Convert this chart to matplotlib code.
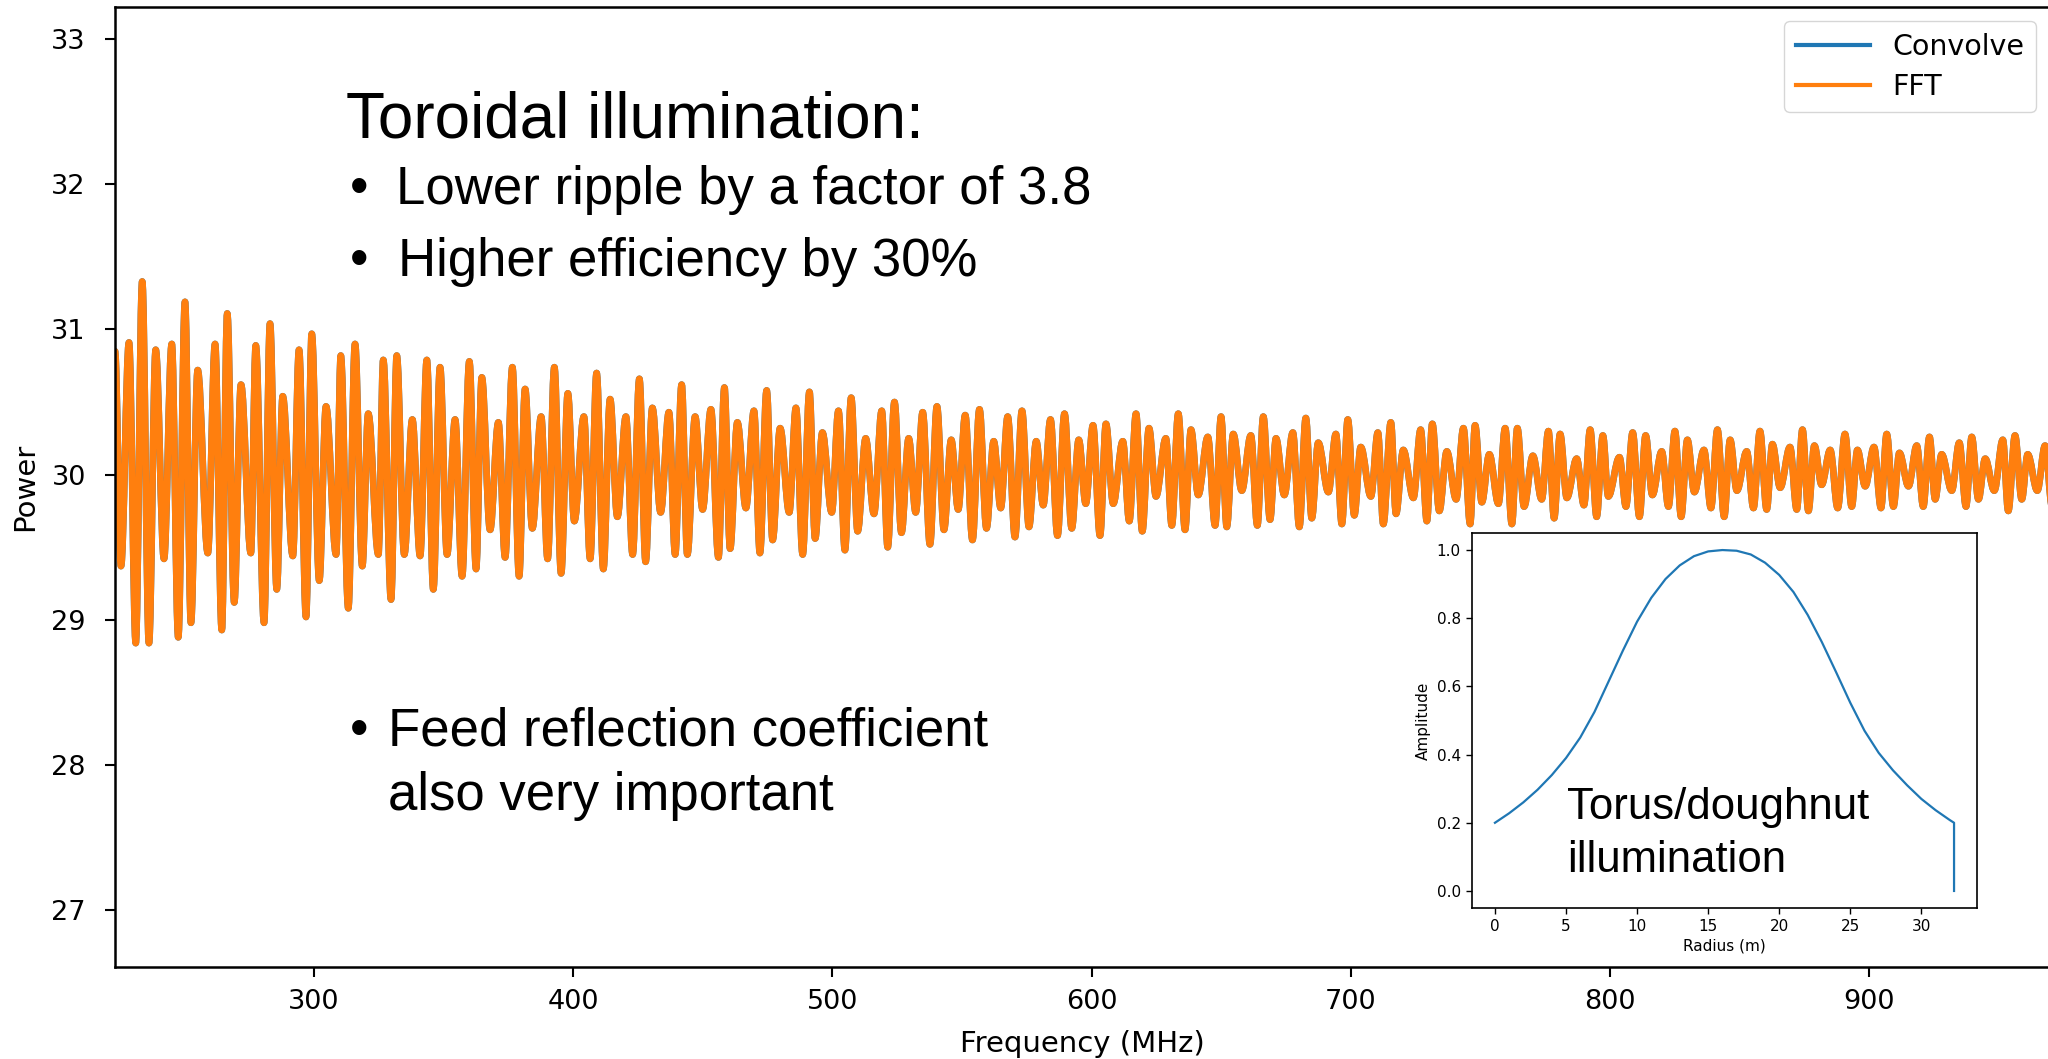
import matplotlib
matplotlib.use("Agg")
import matplotlib.pyplot as plt
from matplotlib.path import Path
from matplotlib.patches import PathPatch
from matplotlib.lines import Line2D

# Ripple turning points of the simulated bandpass (frequency in MHz, power)
freq_mhz = [
    223.2, 225.5, 228.6, 231.2, 233.7, 236.3, 238.9, 242.1, 245.1, 247.6,
    250.2, 252.5, 255.1, 259.0, 261.8, 264.4, 266.5, 269.2, 271.8, 275.6,
    277.5, 280.7, 283.0, 285.6, 287.9, 291.8, 294.2, 296.9, 299.1, 302.0,
    304.6, 308.5, 310.3, 313.2, 315.8, 318.6, 320.9, 324.8, 326.7, 329.7,
    331.9, 334.8, 337.9, 340.9, 343.5, 346.0, 348.6, 351.3, 354.4, 357.1,
    359.9, 362.5, 364.7, 367.9, 371.1, 373.7, 376.5, 379.1, 381.4, 384.2,
    387.6, 390.1, 392.7, 395.3, 397.9, 400.4, 404.1, 406.5, 409.0, 411.6,
    414.2, 417.0, 420.3, 422.9, 425.5, 427.9, 430.5, 433.7, 436.9, 439.3,
    441.8, 444.0, 447.0, 449.9, 453.1, 456.0, 458.3, 460.5, 463.3, 466.6,
    469.7, 472.0, 474.6, 476.9, 479.8, 483.3, 485.9, 488.5, 491.1, 493.3,
    496.1, 499.7, 502.3, 504.8, 507.2, 509.7, 512.8, 516.0, 519.0, 521.3,
    523.9, 526.6, 529.4, 532.1, 534.8, 537.6, 540.3, 543.0, 545.8, 548.5,
    551.2, 554.0, 556.7, 559.4, 562.2, 564.9, 567.6, 570.4, 573.1, 575.8,
    578.6, 581.3, 584.1, 586.8, 589.5, 592.3, 595.0, 597.7, 600.5, 603.2,
    605.5, 608.3, 612.0, 614.5, 617.1, 619.5, 622.1, 624.8, 628.6, 630.9,
    633.4, 636.0, 638.3, 641.1, 644.8, 647.6, 649.9, 652.1, 654.6, 657.9,
    661.4, 663.9, 666.2, 668.8, 671.1, 674.3, 677.6, 680.1, 682.6, 684.9,
    687.4, 691.3, 694.2, 696.5, 698.8, 701.3, 703.8, 707.7, 710.4, 712.5,
    715.4, 717.4, 720.2, 724.1, 726.9, 729.3, 731.4, 734.1, 737.0, 740.6,
    743.4, 746.0, 747.9, 750.5, 753.4, 756.9, 759.5, 762.1, 764.2, 766.8,
    770.2, 773.6, 776.2, 778.4, 780.7, 783.3, 787.1, 789.9, 792.3, 794.8,
    797.2, 799.3, 803.6, 806.1, 808.7, 811.3, 813.7, 816.3, 819.9, 822.5,
    825.0, 827.4, 829.8, 832.5, 836.2, 838.9, 841.4, 844.0, 846.3, 848.9,
    852.7, 855.3, 857.8, 860.4, 862.6, 865.6, 869.4, 872.0, 874.2, 876.5,
    878.8, 881.6, 884.9, 887.8, 890.6, 893.2, 895.4, 898.4, 901.8, 904.5,
    906.7, 909.3, 911.6, 915.1, 918.3, 920.8, 923.2, 925.4, 927.9, 931.8,
    934.7, 937.3, 939.5, 942.1, 944.7, 948.2, 951.5, 953.6, 956.2, 958.8,
    961.1, 964.8, 967.8, 970.5,
]
power = [
    30.85, 29.37, 30.91, 28.84, 31.33, 28.84, 30.86, 29.42, 30.90, 28.88,
    31.19, 28.98, 30.72, 29.46, 30.90, 28.93, 31.11, 29.12, 30.62, 29.46,
    30.89, 28.98, 31.04, 29.21, 30.54, 29.44, 30.86, 29.02, 30.97, 29.27,
    30.47, 29.45, 30.82, 29.08, 30.90, 29.37, 30.42, 29.45, 30.79, 29.14,
    30.82, 29.45, 30.38, 29.44, 30.79, 29.21, 30.74, 29.45, 30.38, 29.30,
    30.78, 29.35, 30.67, 29.62, 30.36, 29.43, 30.74, 29.30, 30.59, 29.63,
    30.40, 29.42, 30.74, 29.32, 30.56, 29.68, 30.40, 29.42, 30.70, 29.35,
    30.52, 29.71, 30.40, 29.45, 30.66, 29.40, 30.46, 29.74, 30.43, 29.45,
    30.62, 29.45, 30.40, 29.76, 30.45, 29.43, 30.60, 29.49, 30.36, 29.77,
    30.44, 29.46, 30.58, 29.55, 30.32, 29.74, 30.46, 29.45, 30.57, 29.56,
    30.29, 29.74, 30.44, 29.48, 30.53, 29.61, 30.25, 29.73, 30.44, 29.50,
    30.50, 29.60, 30.25, 29.74, 30.43, 29.52, 30.47, 29.62, 30.24, 29.76,
    30.41, 29.55, 30.45, 29.63, 30.23, 29.77, 30.40, 29.57, 30.44, 29.64,
    30.23, 29.79, 30.38, 29.58, 30.42, 29.63, 30.24, 29.80, 30.34, 29.58,
    30.35, 29.80, 30.23, 29.68, 30.42, 29.61, 30.32, 29.85, 30.25, 29.65,
    30.42, 29.62, 30.31, 29.86, 30.26, 29.65, 30.40, 29.64, 30.28, 29.89,
    30.27, 29.65, 30.40, 29.69, 30.25, 29.86, 30.29, 29.64, 30.39, 29.70,
    30.22, 29.88, 30.28, 29.66, 30.38, 29.72, 30.19, 29.85, 30.29, 29.66,
    30.36, 29.73, 30.17, 29.84, 30.31, 29.68, 30.35, 29.75, 30.16, 29.83,
    30.32, 29.66, 30.34, 29.81, 30.14, 29.80, 30.32, 29.66, 30.32, 29.78,
    30.13, 29.83, 30.30, 29.70, 30.28, 29.84, 30.11, 29.79, 30.31, 29.71,
    30.27, 29.85, 30.12, 29.78, 30.29, 29.71, 30.27, 29.86, 30.16, 29.78,
    30.30, 29.71, 30.24, 29.88, 30.17, 29.77, 30.31, 29.71, 30.24, 29.89,
    30.16, 29.77, 30.30, 29.76, 30.21, 29.91, 30.19, 29.76, 30.31, 29.75,
    30.20, 29.93, 30.17, 29.77, 30.28, 29.78, 30.17, 29.92, 30.19, 29.77,
    30.28, 29.78, 30.15, 29.92, 30.20, 29.78, 30.26, 29.83, 30.14, 29.89,
    30.22, 29.78, 30.26, 29.83, 30.11, 29.89, 30.24, 29.75, 30.27, 29.83,
    30.14, 29.89, 30.20, 29.78,
]

# Dish illumination taper (radius in m, relative amplitude)
radius_m = [0, 1, 2, 3, 4, 5, 6, 7, 8, 9, 10, 11, 12, 13, 14, 15, 16, 17,
            18, 19, 20, 21, 22, 23, 24, 25, 26, 27, 28, 29, 30, 31, 32,
            32.3, 32.3]
amplitude = [0.200, 0.228, 0.260, 0.297, 0.340, 0.390, 0.450, 0.525, 0.615,
             0.705, 0.790, 0.860, 0.915, 0.955, 0.982, 0.996, 1.000, 0.998,
             0.987, 0.963, 0.927, 0.877, 0.810, 0.730, 0.642, 0.552, 0.470,
             0.405, 0.354, 0.310, 0.270, 0.237, 0.208, 0.200, 0.0]

series_labels = ["Convolve", "FFT"]
series_colors = ["#1f77b4", "#ff7f0e"]

W, H = 2048, 1059
fig = plt.figure(figsize=(W / 100, H / 100), dpi=100)
fig.patch.set_facecolor("white")

ax = fig.add_axes([115 / W, 1 - 967 / H, (2050 - 115) / W, (967 - 7) / H])


def smooth_path(xs, ys, c=0.364):
    """Cubic Bezier path through turning points with flat tangents."""
    verts = [(xs[0], ys[0])]
    codes = [Path.MOVETO]
    for i in range(1, len(xs)):
        dx = xs[i] - xs[i - 1]
        verts += [(xs[i - 1] + c * dx, ys[i - 1]),
                  (xs[i] - c * dx, ys[i]),
                  (xs[i], ys[i])]
        codes += [Path.CURVE4] * 3
    return Path(verts, codes)


ripple = smooth_path(freq_mhz, power)
for col in series_colors:
    ax.add_patch(PathPatch(ripple, facecolor="none", edgecolor=col,
                           lw=4.8, capstyle="round", joinstyle="round",
                           transform=ax.transData, clip_on=True))

ax.set_xlim(223.2, 969.7)
ax.set_ylim(26.61, 33.22)
ax.set_xticks([300, 400, 500, 600, 700, 800, 900])
ax.set_yticks([27, 28, 29, 30, 31, 32, 33])
ax.tick_params(labelsize=19.5, length=7, width=1.5)
ax.tick_params(axis="x", pad=9)
ax.tick_params(axis="y", pad=14)
for sp in ax.spines.values():
    sp.set_linewidth(1.8)
ax.set_xlabel("Frequency (MHz)", fontsize=21, labelpad=11)
ax.set_ylabel("Power", fontsize=21, labelpad=9)

handles = [Line2D([], [], color=c, lw=3) for c in series_colors]
ax.legend(handles, series_labels, loc="upper right", fontsize=20.5,
          handlelength=2.6, borderaxespad=0.5, labelspacing=0.42)

# Inset: illumination profile
ins = fig.add_axes([1472 / W, 1 - 908 / H, 505 / W, 375 / H])
ins.plot(radius_m, amplitude, color="#1f77b4", lw=1.6)
ins.set_xticks([0, 5, 10, 15, 20, 25, 30])
ins.set_yticks([0.0, 0.2, 0.4, 0.6, 0.8, 1.0])
ins.tick_params(labelsize=11, length=4, width=1.0, pad=4)
for sp in ins.spines.values():
    sp.set_linewidth(1.2)
ins.set_xlabel("Radius (m)", fontsize=11, labelpad=3)
ins.set_ylabel("Amplitude", fontsize=11, labelpad=4)

# Slide annotations
sans = ["Liberation Sans", "DejaVu Sans"]


def put(x, y, s, size):
    fig.text(x / W, 1 - y / H, s, fontsize=size, family=sans,
             va="baseline", ha="left", color="black")


put(346, 138, "Toroidal illumination:", 46)
put(350, 204, "\u2022", 38)
put(396, 204, "Lower ripple by a factor of 3.8", 38)
put(350, 276, "\u2022", 38)
put(398, 276, "Higher efficiency by 30%", 38)
put(350, 746, "\u2022", 38)
put(388, 746, "Feed reflection coefficient", 38)
put(388, 810, "also very important", 38)
put(1567, 819, "Torus/doughnut", 31.5)
put(1567, 872, "illumination", 31.5)

fig.savefig("out.png", dpi=100, facecolor="white")
